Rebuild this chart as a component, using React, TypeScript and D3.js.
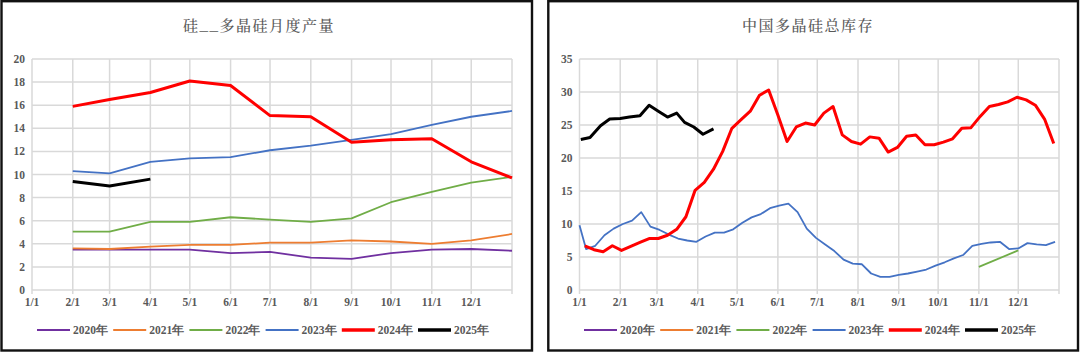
import { useEffect, useRef } from "react";
import * as d3 from "d3";

// ---- left: 硅__多晶硅月度产量 (monthly, value at month start; 13 = next Jan 1)
const prodMonths = [2, 3, 4, 5, 6, 7, 8, 9, 10, 11, 12, 13];
const prod2020 = [3.5, 3.5, 3.5, 3.5, 3.2, 3.3, 2.8, 2.7, 3.2, 3.5, 3.55, 3.4];
const prod2021 = [3.6, 3.55, 3.75, 3.9, 3.9, 4.1, 4.1, 4.3, 4.2, 4.0, 4.3, 4.85];
const prod2022 = [5.05, 5.05, 5.9, 5.9, 6.3, 6.1, 5.9, 6.2, 7.6, 8.5, 9.3, 9.8];
const prod2023 = [10.3, 10.1, 11.1, 11.4, 11.5, 12.1, 12.5, 13.0, 13.5, 14.3, 15.0, 15.5];
const prod2024 = [15.9, 16.5, 17.1, 18.1, 17.7, 15.1, 15.0, 12.8, 13.0, 13.1, 11.1, 9.7];
const prod2025 = [9.4, 9.0, 9.6];

// ---- right: 中国多晶硅总库存 (weekly)
const inv2022Dates = ["11/1", "12/1"];
const inv2022 = [3.5, 6.0];

const inv2023Dates = [
  "1/1", "1/6", "1/13", "1/20", "1/27", "2/3", "2/10", "2/17", "2/24", "3/3", "3/10", "3/17", "3/24", "3/31",
  "4/7", "4/14", "4/21", "4/28", "5/5", "5/12", "5/19", "5/26", "6/2", "6/9", "6/16", "6/23", "6/30",
  "7/7", "7/14", "7/21", "7/28", "8/4", "8/11", "8/18", "8/25", "9/1", "9/8", "9/15", "9/22", "9/29",
  "10/6", "10/13", "10/20", "10/27", "11/3", "11/10", "11/17", "11/24", "12/1", "12/8", "12/15", "12/22", "12/29",
];
const inv2023 = [
  9.8, 6.2, 6.7, 8.3, 9.3, 10.0, 10.5, 11.8, 9.6, 9.1, 8.4, 7.8, 7.5, 7.3,
  8.1, 8.7, 8.7, 9.2, 10.2, 11.0, 11.5, 12.4, 12.8, 13.1, 11.8, 9.3, 7.9,
  6.9, 5.9, 4.6, 4.0, 3.9, 2.5, 2.0, 2.0, 2.3, 2.5, 2.8, 3.1, 3.7,
  4.2, 4.8, 5.3, 6.7, 7.0, 7.2, 7.3, 6.2, 6.3, 7.1, 6.9, 6.8, 7.3,
];

const inv2024Dates = [
  "1/5", "1/12", "1/19", "1/26", "2/2", "2/9", "2/16", "2/23", "3/2", "3/9", "3/16", "3/23", "3/30",
  "4/6", "4/13", "4/20", "4/27", "5/4", "5/11", "5/18", "5/25", "6/1", "6/8", "6/15", "6/22", "6/29",
  "7/6", "7/13", "7/20", "7/27", "8/3", "8/10", "8/17", "8/24", "8/31", "9/7", "9/14", "9/21", "9/28",
  "10/5", "10/12", "10/19", "10/26", "11/2", "11/9", "11/16", "11/23", "11/30", "12/7", "12/14", "12/21", "12/28",
];
const inv2024 = [
  6.7, 6.1, 5.8, 6.7, 6.0, 6.6, 7.2, 7.8, 7.8, 8.3, 9.2, 11.1, 15.1,
  16.3, 18.3, 21.0, 24.5, 25.8, 27.1, 29.5, 30.3, 26.5, 22.5, 24.7, 25.3, 25.0,
  26.8, 27.8, 23.5, 22.5, 22.1, 23.2, 23.0, 20.9, 21.6, 23.3, 23.5, 22.0, 22.0,
  22.4, 22.9, 24.5, 24.6, 26.3, 27.8, 28.1, 28.5, 29.2, 28.8, 28.0, 25.9, 22.2,
];

const inv2025Dates = ["1/2", "1/9", "1/17", "1/24", "2/1", "2/8", "2/16", "2/23", "3/2", "3/9", "3/16", "3/22", "3/29", "4/5", "4/13"];
const inv2025 = [22.8, 23.1, 24.9, 25.9, 26.0, 26.2, 26.4, 28.0, 27.1, 26.2, 26.8, 25.4, 24.7, 23.6, 24.4];

const monthLabels = ["1/1", "2/1", "3/1", "4/1", "5/1", "6/1", "7/1", "8/1", "9/1", "10/1", "11/1", "12/1"];
const years = ["2020年", "2021年", "2022年", "2023年", "2024年", "2025年"];
const colors = ["#7030A0", "#ED7D31", "#70AD47", "#4472C4", "#FF0000", "#000000"];
const widths = [1.8, 1.8, 1.8, 1.8, 3, 3];

const fontNum = "'Liberation Serif', 'Times New Roman', 'DejaVu Serif', serif";
const fontCjk = "'Noto Serif CJK SC', 'Noto Sans CJK SC', serif";

const parseMD = (s) => {
  const [m, d] = s.split("/").map(Number);
  return new Date(2023, m - 1, d);
};

const drawPanel = (svg, o) => {
  const g = svg.append("g");

  g.append("rect")
    .attr("x", o.bx).attr("y", 1.2)
    .attr("width", o.bw).attr("height", 349.3)
    .attr("fill", "#fff")
    .attr("stroke", "#111")
    .attr("stroke-width", 2.4);

  g.append("text")
    .attr("x", o.titleX).attr("y", 31)
    .attr("text-anchor", "middle")
    .attr("font-family", fontCjk)
    .attr("font-size", 15)
    .attr("font-weight", 500)
    .attr("letter-spacing", 1.5)
    .attr("fill", "#595959")
    .text(o.title);

  const x = d3.scaleTime()
    .domain([new Date(2023, 0, 1), new Date(2024, 0, 1)])
    .range([o.left, o.right]);
  const y = d3.scaleLinear().domain([0, o.yMax]).range([290, 59]);

  const months = d3.range(0, 13).map((m) => new Date(2023, m, 1));
  const yTicks = d3.range(0, o.yMax + 0.001, o.yStep);

  g.append("g")
    .attr("stroke", "#d9d9d9")
    .attr("stroke-width", 1.5)
    .call((gg) => gg.selectAll("line.h").data(yTicks).join("line")
      .attr("x1", o.left).attr("x2", o.right)
      .attr("y1", (d) => y(d)).attr("y2", (d) => y(d)))
    .call((gg) => gg.selectAll("line.v").data(months).join("line")
      .attr("x1", (d) => x(d)).attr("x2", (d) => x(d))
      .attr("y1", 59).attr("y2", 294));

  g.append("g")
    .attr("font-family", fontNum)
    .attr("font-size", 11.5)
    .attr("font-weight", "bold")
    .attr("fill", "#595959")
    .attr("text-anchor", "end")
    .selectAll("text").data(yTicks).join("text")
    .attr("x", o.left - 7)
    .attr("y", (d) => y(d) + 4)
    .text((d) => d);

  g.append("g")
    .attr("font-family", fontNum)
    .attr("font-size", 11.5)
    .attr("font-weight", "bold")
    .attr("fill", "#595959")
    .attr("text-anchor", "middle")
    .selectAll("text").data(months.slice(0, 12)).join("text")
    .attr("x", (d) => x(d))
    .attr("y", 306)
    .text((d, i) => monthLabels[i]);

  const line = d3.line().x((d) => x(d[0])).y((d) => y(d[1]));

  g.append("g")
    .attr("fill", "none")
    .attr("stroke-linejoin", "round")
    .selectAll("path").data(o.series).join("path")
    .attr("stroke", (d) => colors[d.k])
    .attr("stroke-width", (d) => widths[d.k])
    .attr("d", (d) => line(d.pts));

  const leg = g.append("g").selectAll("g").data(years).join("g")
    .attr("transform", (d, i) => `translate(${o.legendX + i * 76.2},330)`);
  leg.append("line")
    .attr("x1", 0).attr("x2", 33)
    .attr("stroke", (d, i) => colors[i])
    .attr("stroke-width", (d, i) => (i >= 4 ? 3.5 : 2));
  leg.append("text")
    .attr("x", 36).attr("y", 4)
    .attr("font-family", fontNum)
    .attr("font-size", 11.5)
    .attr("font-weight", "bold")
    .attr("fill", "#595959")
    .text((d) => d);
};

const App = () => {
  const ref = useRef();

  useEffect(() => {
    const svg = d3.select(ref.current);
    svg.selectAll("*").remove();

    const prod = [prod2020, prod2021, prod2022, prod2023, prod2024, prod2025].map((vals, k) => ({
      k,
      pts: vals.map((v, i) => [new Date(2023, prodMonths[i] - 1, 1), v]),
    }));

    drawPanel(svg, {
      bx: 1.5, bw: 530.5,
      left: 32, right: 512,
      yMax: 20, yStep: 2,
      title: "硅__多晶硅月度产量", titleX: 259,
      legendX: 37,
      series: prod,
    });

    const inv = [
      [2, inv2022Dates, inv2022],
      [3, inv2023Dates, inv2023],
      [4, inv2024Dates, inv2024],
      [5, inv2025Dates, inv2025],
    ].map(([k, ds, vs]) => ({ k, pts: ds.map((s, i) => [parseMD(s), vs[i]]) }));

    drawPanel(svg, {
      bx: 548.3, bw: 529.7,
      left: 579.5, right: 1059,
      yMax: 35, yStep: 5,
      title: "中国多晶硅总库存", titleX: 808,
      legendX: 584,
      series: inv,
    });
  }, []);

  return (
    <svg
      ref={ref}
      width={1080}
      height={353}
      style={{ position: "absolute", left: 0, top: 0, background: "#fff" }}
    />
  );
};

export default App;
